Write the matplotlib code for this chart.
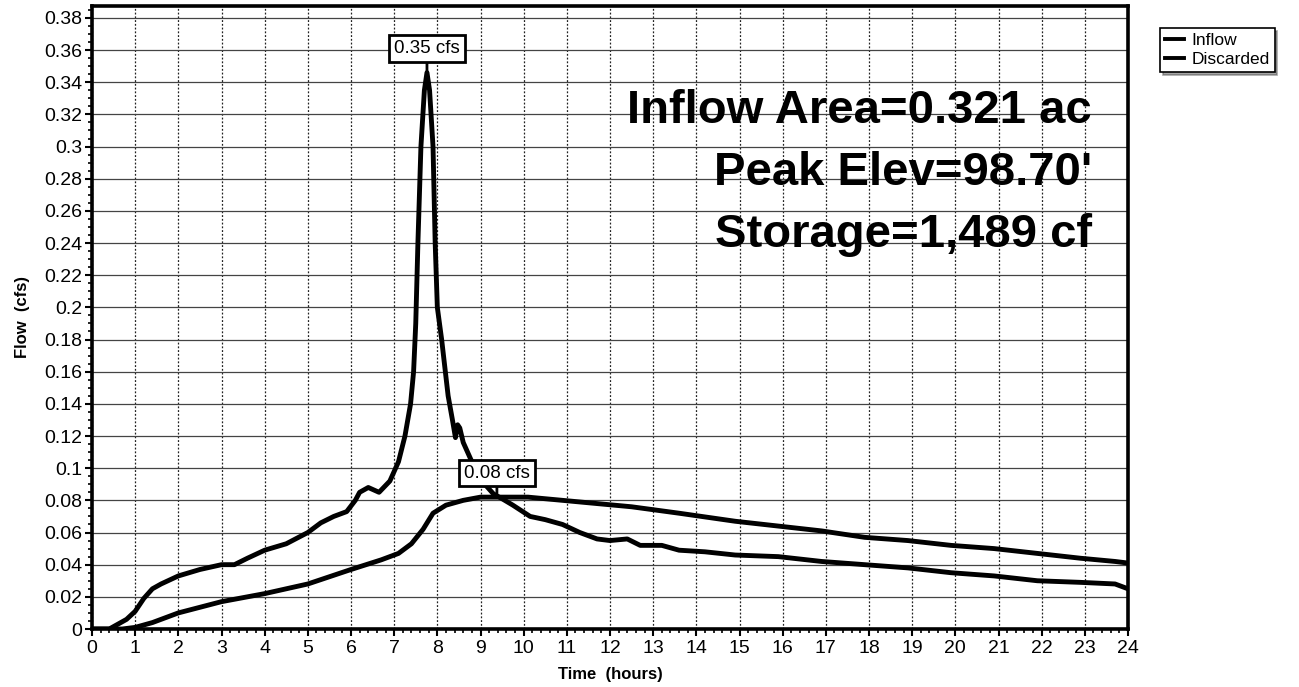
import matplotlib
matplotlib.use("Agg")
import matplotlib.pyplot as plt
from matplotlib.ticker import MultipleLocator, FixedLocator
import numpy as np

plt.rcParams['font.family'] = ['Liberation Sans', 'DejaVu Sans']

# Inflow hydrograph (hours, cfs)
inflow_t = [0, 0.4, 0.6, 0.8, 1.0, 1.2, 1.4, 1.6, 2.0, 2.5, 3.0, 3.3, 3.6, 4.0, 4.5,
            5.0, 5.3, 5.6, 5.9, 6.1, 6.2, 6.4, 6.65, 6.9, 7.1, 7.25, 7.38, 7.45, 7.5,
            7.55, 7.62, 7.7, 7.76, 7.82, 7.9, 7.95, 8.0, 8.1, 8.25, 8.35, 8.42, 8.47,
            8.52, 8.6, 8.75, 8.9, 9.1, 9.3, 9.5, 9.75, 10.15, 10.5, 10.9, 11.3, 11.7,
            12.0, 12.4, 12.7, 13.2, 13.6, 14.2, 14.9, 15.9, 16.9, 17.9, 18.9, 19.9,
            20.9, 21.9, 22.9, 23.7, 24.0]
inflow_q = [0, 0, 0.003, 0.006, 0.011, 0.019, 0.025, 0.028, 0.033, 0.037, 0.040, 0.040,
            0.044, 0.049, 0.053, 0.060, 0.066, 0.070, 0.073, 0.080, 0.085, 0.088, 0.085,
            0.092, 0.104, 0.120, 0.140, 0.160, 0.190, 0.240, 0.300, 0.335, 0.346, 0.335,
            0.300, 0.240, 0.200, 0.180, 0.145, 0.130, 0.119, 0.127, 0.125, 0.116, 0.107,
            0.098, 0.090, 0.084, 0.081, 0.077, 0.070, 0.068, 0.065, 0.060, 0.056, 0.055,
            0.056, 0.052, 0.052, 0.049, 0.048, 0.046, 0.045, 0.042, 0.040, 0.038, 0.035,
            0.033, 0.030, 0.029, 0.028, 0.025]

# Discarded hydrograph (hours, cfs)
disc_t = [0, 0.7, 1.0, 1.4, 2, 3, 4, 5, 6, 6.7, 7.1, 7.4, 7.67, 7.9, 8.2, 8.6, 9.0,
          9.4, 10.1, 10.9, 11.7, 12.5, 13.6, 14.9, 15.9, 16.9, 17.9, 18.9, 19.9, 20.9,
          21.9, 22.9, 23.7, 24]
disc_q = [0, 0, 0.001, 0.004, 0.010, 0.017, 0.022, 0.028, 0.037, 0.043, 0.047, 0.053,
          0.062, 0.072, 0.077, 0.080, 0.082, 0.082, 0.082, 0.080, 0.078, 0.076, 0.072,
          0.067, 0.064, 0.061, 0.057, 0.055, 0.052, 0.050, 0.047, 0.044, 0.042, 0.041]

peak_labels = ["0.35 cfs", "0.08 cfs"]
info_lines = ["Inflow Area=0.321 ac", "Peak Elev=98.70'", "Storage=1,489 cf"]
series_names = ["Inflow", "Discarded"]

fig = plt.figure(figsize=(12.99, 6.87), dpi=100)
ax = fig.add_axes([92/1299, 1-629/687, (1128-92)/1299, (629-6)/687])

ax.set_xlim(0, 24)
ax.set_ylim(0, 0.3874)

ax.xaxis.set_major_locator(MultipleLocator(1))
ax.xaxis.set_minor_locator(MultipleLocator(0.2))
ax.yaxis.set_major_locator(FixedLocator(np.round(np.arange(0, 0.381, 0.02), 2)))
ax.yaxis.set_minor_locator(MultipleLocator(0.005))
ax.yaxis.set_major_formatter(plt.FuncFormatter(lambda v, p: ('%g' % round(v, 2))))

ax.grid(True, which='major', axis='y', color='#444444', lw=0.9, ls='-')
ax.grid(True, which='major', axis='x', color='#222222', lw=0.9, ls=(0, (1.5, 1.5)))
ax.set_axisbelow(True)

for s in ax.spines.values():
    s.set_linewidth(2.6)
    s.set_color('black')

ax.tick_params(axis='both', which='major', direction='out', length=5, width=1.5,
               labelsize=14)
ax.tick_params(axis='x', which='major', pad=3)
ax.tick_params(axis='y', which='major', pad=2)
ax.tick_params(axis='both', which='minor', direction='out', length=3, width=1.2)

l1, = ax.plot(inflow_t, inflow_q, color='black', lw=3.5, solid_joinstyle='round',
              label=series_names[0], zorder=3)
l2, = ax.plot(disc_t, disc_q, color='black', lw=3.5, solid_joinstyle='round',
              label=series_names[1], zorder=3)

ax.set_xlabel("Time  (hours)", fontsize=12, fontweight='bold', labelpad=7)
ax.set_ylabel("Flow  (cfs)", fontsize=12, fontweight='bold', labelpad=10)

# peak callouts
pk_i = int(np.argmax(inflow_q))
ax.annotate(peak_labels[0], xy=(inflow_t[pk_i], inflow_q[pk_i]), xytext=(7.76, 0.361),
            ha='center', va='center', fontsize=13.5, zorder=5,
            bbox=dict(boxstyle='square,pad=0.25', fc='white', ec='black', lw=2),
            arrowprops=dict(arrowstyle='-', color='black', lw=2, shrinkA=0, shrinkB=0))
ax.annotate(peak_labels[1], xy=(9.38, max(disc_q)), xytext=(9.38, 0.097),
            ha='center', va='center', fontsize=13.5, zorder=5,
            bbox=dict(boxstyle='square,pad=0.25', fc='white', ec='black', lw=2),
            arrowprops=dict(arrowstyle='-', color='black', lw=2, shrinkA=0, shrinkB=0))

# info text
for i, line in enumerate(info_lines):
    ax.text(1092/1299, 1-(111 + 62*i)/687, line, transform=fig.transFigure,
            ha='right', va='center', fontsize=34, fontweight='bold', zorder=4)

leg = fig.legend(handles=[l1, l2], labels=series_names, loc='upper left',
                 bbox_to_anchor=(1160/1299, 1-28/687), frameon=True, fancybox=False,
                 shadow=True, fontsize=12.5, handlelength=1.1, handletextpad=0.4,
                 borderpad=0.3, labelspacing=0.2, borderaxespad=0)
leg.get_frame().set_edgecolor('black')
leg.get_frame().set_linewidth(1.2)
for h in leg.get_lines():
    h.set_linewidth(2.8)

fig.savefig("out.png", dpi=100)
